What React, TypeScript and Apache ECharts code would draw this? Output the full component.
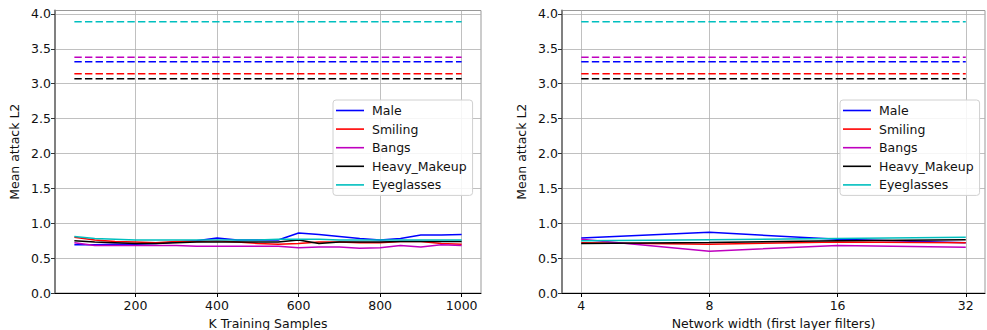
import React, { useEffect, useRef } from "react";
import * as echarts from "echarts";

const attrNames = ["Male", "Smiling", "Bangs", "Heavy_Makeup", "Eyeglasses"];
const attrColors = ["#0000ff", "#ff0000", "#bf00bf", "#000000", "#00bfbf"];

const samples = [50, 100, 150, 200, 250, 300, 350, 400, 450, 500, 550, 600, 650, 700, 750, 800, 850, 900, 950, 1000];
const maleK = [0.69, 0.69, 0.7, 0.7, 0.71, 0.73, 0.75, 0.79, 0.76, 0.76, 0.76, 0.86, 0.84, 0.81, 0.78, 0.76, 0.78, 0.83, 0.83, 0.84];
const smilingK = [0.8, 0.76, 0.74, 0.73, 0.72, 0.74, 0.74, 0.75, 0.73, 0.71, 0.7, 0.71, 0.73, 0.73, 0.72, 0.72, 0.74, 0.74, 0.71, 0.7];
const bangsK = [0.72, 0.68, 0.68, 0.68, 0.68, 0.68, 0.67, 0.67, 0.67, 0.67, 0.67, 0.65, 0.66, 0.66, 0.64, 0.65, 0.68, 0.66, 0.69, 0.68];
const makeupK = [0.75, 0.73, 0.72, 0.71, 0.71, 0.72, 0.73, 0.73, 0.73, 0.73, 0.73, 0.76, 0.71, 0.73, 0.73, 0.73, 0.74, 0.74, 0.74, 0.74];
const glassesK = [0.81, 0.78, 0.77, 0.76, 0.76, 0.76, 0.76, 0.76, 0.76, 0.76, 0.77, 0.77, 0.77, 0.76, 0.76, 0.76, 0.76, 0.76, 0.76, 0.76];

const widths = ["4", "8", "16", "32"];
const maleW = [0.79, 0.87, 0.77, 0.72];
const smilingW = [0.72, 0.7, 0.73, 0.72];
const bangsW = [0.77, 0.6, 0.68, 0.655];
const makeupW = [0.71, 0.725, 0.75, 0.765];
const glassesW = [0.75, 0.765, 0.78, 0.8];

const baselines = [3.315, 3.145, 3.38, 3.07, 3.89];

const kTicks = [200, 400, 600, 800, 1000];
const yTicks = [0, 0.5, 1.0, 1.5, 2.0, 2.5, 3.0, 3.5, 4.0];

const FONT = "DejaVu Sans";
const FS = 12.5;

export default function App() {
  const ref = useRef<HTMLDivElement>(null);
  useEffect(() => {
    if (!ref.current) return;
    const chart = echarts.init(ref.current, null, { renderer: "svg" });
    const kSeries = [maleK, smilingK, bangsK, makeupK, glassesK];
    const wSeries = [maleW, smilingW, bangsW, makeupW, glassesW];
    const wIdx = widths.map((_, i) => i);
    const dash = [7.4, 3.2];

    const series: any[] = [];
    attrNames.forEach((name, i) => {
      series.push({
        name: name,
        type: "line",
        xAxisIndex: 0,
        yAxisIndex: 0,
        symbol: "none",
        data: samples.map((s, j) => [s, kSeries[i][j]]),
        lineStyle: { color: attrColors[i], width: 1.5 },
        itemStyle: { color: attrColors[i] },
        z: 3,
      });
      series.push({
        name: name + " baseline",
        type: "line",
        xAxisIndex: 0,
        yAxisIndex: 0,
        symbol: "none",
        data: [[samples[0], baselines[i]], [samples[samples.length - 1], baselines[i]]],
        lineStyle: { color: attrColors[i], width: 1.5, type: dash },
        itemStyle: { color: attrColors[i] },
        z: 3,
      });
      series.push({
        name: name,
        type: "line",
        xAxisIndex: 1,
        yAxisIndex: 1,
        symbol: "none",
        data: wIdx.map((k) => [k, wSeries[i][k]]),
        lineStyle: { color: attrColors[i], width: 1.5 },
        itemStyle: { color: attrColors[i] },
        z: 3,
      });
      series.push({
        name: name + " baseline",
        type: "line",
        xAxisIndex: 1,
        yAxisIndex: 1,
        symbol: "none",
        data: [[0, baselines[i]], [widths.length - 1, baselines[i]]],
        lineStyle: { color: attrColors[i], width: 1.5, type: dash },
        itemStyle: { color: attrColors[i] },
        z: 3,
      });
    });

    const textStyle = { fontFamily: FONT, fontSize: FS, color: "#111" };
    const splitLine = { show: true, lineStyle: { color: "#b0b0b0", width: 0.8 } };

    const yAxisBase = (gridIndex: number) => ({
      type: "value",
      gridIndex,
      min: 0,
      max: 4.05,
      name: "Mean attack L2",
      nameLocation: "middle",
      nameGap: 34,
      nameTextStyle: { fontFamily: FONT, fontSize: FS, color: "#111" },
      axisLine: { show: true, onZero: false, lineStyle: { color: "#808080", width: 2 } },
      axisTick: { show: true, length: 4, lineStyle: { color: "#333" }, customValues: yTicks },
      axisLabel: {
        ...textStyle,
        margin: 4,
        customValues: yTicks,
        formatter: (v: number) => v.toFixed(1),
      },
      splitLine,
    });

    const legendBase = (left: number) => ({
      data: attrNames,
      orient: "vertical",
      left,
      top: 100,
      icon: "path://M0,0L28,0L28,1.6L0,1.6Z",
      itemWidth: 28,
      itemHeight: 14,
      itemGap: 5.6,
      padding: [4, 6, 4, 3],
      borderColor: "#d0d0d0",
      borderWidth: 1,
      borderRadius: 3,
      backgroundColor: "rgba(255,255,255,0.85)",
      textStyle: { fontFamily: FONT, fontSize: FS, color: "#111", padding: [0, 0, 0, 3] },
    });

    chart.setOption({
      animation: false,
      backgroundColor: "#ffffff",
      grid: [
        { left: 55, top: 10.5, width: 426, height: 282.5, show: true, borderColor: "#999", borderWidth: 1, containLabel: false, outerBoundsMode: "none" },
        { left: 562, top: 10.5, width: 423, height: 282.5, show: true, borderColor: "#999", borderWidth: 1, containLabel: false, outerBoundsMode: "none" },
      ],
      legend: [legendBase(333), legendBase(840)],
      xAxis: [
        {
          type: "value",
          gridIndex: 0,
          min: 2.5,
          max: 1047.5,
          name: "K Training Samples",
          nameLocation: "middle",
          nameGap: 22,
          nameTextStyle: { fontFamily: FONT, fontSize: FS, color: "#111" },
          axisLine: { show: true, onZero: false, lineStyle: { color: "#000", width: 1 } },
          axisTick: { show: true, length: 4, lineStyle: { color: "#000" }, customValues: kTicks },
          axisLabel: { ...textStyle, margin: 6, customValues: kTicks, formatter: (v: number) => String(v) },
          splitLine,
        },
        {
          type: "value",
          gridIndex: 1,
          min: -0.15,
          max: widths.length - 1 + 0.15,
          name: "Network width (first layer filters)",
          nameLocation: "middle",
          nameGap: 22,
          nameTextStyle: { fontFamily: FONT, fontSize: FS, color: "#111" },
          axisLine: { show: true, onZero: false, lineStyle: { color: "#000", width: 1 } },
          axisTick: { show: true, length: 4, lineStyle: { color: "#000" }, customValues: wIdx },
          axisLabel: {
            ...textStyle,
            margin: 6,
            customValues: wIdx,
            formatter: (v: number) => widths[Math.round(v)] ?? "",
          },
          splitLine,
        },
      ],
      yAxis: [yAxisBase(0), yAxisBase(1)],
      series,
    });
    return () => chart.dispose();
  }, []);
  return (
    <div
      ref={ref}
      style={{ position: "fixed", left: 0, top: 0, width: 987, height: 330, background: "#fff" }}
    />
  );
}
